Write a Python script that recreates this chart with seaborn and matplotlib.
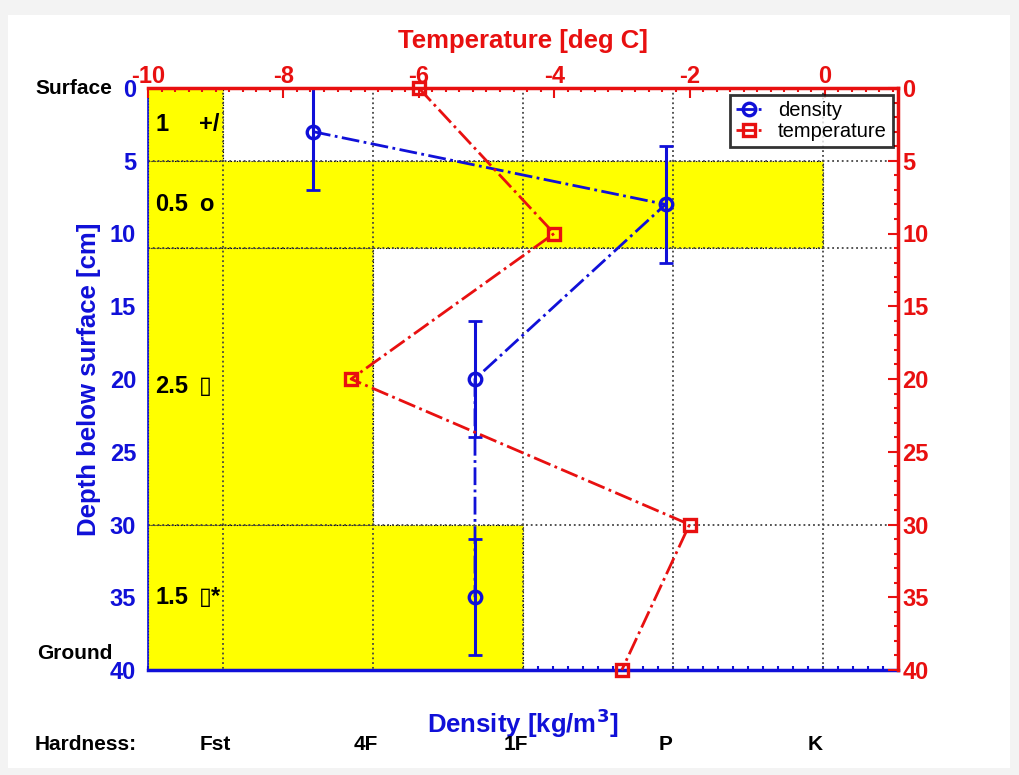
"""
Snow pit profile: hardness layers, density with error bars and temperature.
"""

import numpy as np
import matplotlib
matplotlib.use("Agg")
import matplotlib.pyplot as plt
import matplotlib.transforms as mtransforms
from matplotlib.patches import Rectangle
from matplotlib.ticker import MultipleLocator
import seaborn as sns

# -------------------------------
# DATA
# -------------------------------
layer_top = [0, 5, 11, 30]
layer_bottom = [5, 11, 30, 40]
layer_hardness = [50, 450, 150, 250]
grain_size = ["1", "0.5", "2.5", "1.5"]
grain_type = ["+/", "o", "\u25af", "\u25af*"]

hardness_pos = [50, 150, 250, 350, 450]
hardness_names = ["Fst", "4F", "1F", "P", "K"]

density_depth = [3, 8, 20, 35]
density_value = [110, 345, 218, 218]
density_err = [4, 4, 4, 4]

temp_depth = [0, 10, 20, 30, 40]
temp_value = [-6, -4, -7, -2, -3]

BLUE = "#1010d8"
RED = "#e81010"
YELLOW = "#ffff00"

# -------------------------------
# STYLE
# -------------------------------
sns.set_style("white")
plt.rcParams["font.family"] = ["Liberation Sans", "DejaVu Sans"]
plt.rcParams["font.weight"] = "bold"
plt.rcParams["text.color"] = "black"
plt.rcParams["axes.unicode_minus"] = False

fig = plt.figure(figsize=(10.19, 7.75), dpi=100)
fig.patch.set_facecolor("#f3f3f3")
fig.patches.append(Rectangle((8 / 1019, 7 / 775), 1002 / 1019, 753 / 775,
                             transform=fig.transFigure, facecolor="white",
                             edgecolor="none", zorder=-10))

ax = fig.add_axes([148 / 1019, 105 / 775, 750 / 1019, 582 / 775])
axT = ax.twiny()
axR = ax.twinx()

# -------------------------------
# HARDNESS LAYERS + GRID
# -------------------------------
thick = np.array(layer_bottom) - np.array(layer_top)
ax.barh(layer_top, layer_hardness, height=thick, left=0, align="edge",
        color=YELLOW, edgecolor="black", linewidth=0.8, linestyle=":", zorder=1)
ax.vlines(hardness_pos, 0, 40, colors="#444444", linestyles=":", linewidth=1.3, zorder=2)
ax.hlines(layer_bottom[:-1], 0, 500, colors="#444444", linestyles=":", linewidth=1.3, zorder=2)

for top, bot, gs, gt in zip(layer_top, layer_bottom, grain_size, grain_type):
    mid = (top + bot) / 2
    ax.text(5, mid, gs, fontsize=17, fontweight="bold", va="center", ha="left",
            color="black", zorder=3)
    ax.text(34, mid, gt, fontsize=17, fontweight="bold", va="center", ha="left",
            color="black", zorder=3, family=["Liberation Sans", "DejaVu Sans"])

# -------------------------------
# DENSITY
# -------------------------------
ax.errorbar(density_value, density_depth, yerr=density_err, fmt="none",
            ecolor=BLUE, elinewidth=2.2, capsize=5, capthick=2, zorder=4)
sns.lineplot(x=density_value, y=density_depth, ax=ax, orient="y", sort=False,
             color=BLUE, linestyle="-.", linewidth=2, marker="o", markersize=9,
             markerfacecolor="none", markeredgecolor=BLUE, markeredgewidth=2.4,
             label="density", zorder=5)

# -------------------------------
# TEMPERATURE
# -------------------------------
sns.lineplot(x=temp_value, y=temp_depth, ax=axT, orient="y", sort=False,
             color=RED, linestyle="-.", linewidth=2, marker="s", markersize=8,
             markerfacecolor="none", markeredgecolor=RED, markeredgewidth=2.4,
             label="temperature", zorder=5, clip_on=False)

for a in (ax, axT):
    if a.get_legend() is not None:
        a.get_legend().remove()

# -------------------------------
# AXES
# -------------------------------
ax.set_xlim(0, 500)
ax.set_ylim(40, 0)
axR.set_ylim(40, 0)
axT.set_xlim(-10, 1.08)

ax.set_xticks(np.arange(0, 501, 100))
ax.xaxis.set_minor_locator(MultipleLocator(10))
ax.set_yticks(np.arange(0, 41, 5))
ax.tick_params(axis="x", which="both", direction="in", colors=BLUE, labelsize=17,
               pad=6, top=False, bottom=True, width=1.5)
ax.tick_params(axis="x", which="major", length=7)
ax.tick_params(axis="x", which="minor", length=3)
ax.tick_params(axis="y", colors=BLUE, labelsize=17, left=False, pad=5)

axT.set_xticks(np.arange(-10, 1, 2))
axT.xaxis.set_minor_locator(MultipleLocator(0.2))
axT.tick_params(axis="x", which="both", direction="in", colors=RED, labelsize=17,
                pad=0, width=1.5)
axT.tick_params(axis="x", which="major", length=7)
axT.tick_params(axis="x", which="minor", length=3)

axR.set_yticks(np.arange(0, 41, 5))
axR.yaxis.set_minor_locator(MultipleLocator(1))
axR.tick_params(axis="y", which="both", direction="in", colors=RED, labelsize=17,
                pad=3, width=1.5)
axR.tick_params(axis="y", which="major", length=7)
axR.tick_params(axis="y", which="minor", length=3)

for s in ("top", "right"):
    ax.spines[s].set_visible(False)
ax.spines["left"].set_color(BLUE)
ax.spines["left"].set_linewidth(1.2)
ax.spines["bottom"].set_color(BLUE)
ax.spines["bottom"].set_linewidth(2.5)
ax.spines["bottom"].set_zorder(3)

for s in ("left", "right", "bottom"):
    axT.spines[s].set_visible(False)
axT.spines["top"].set_color(RED)
axT.spines["top"].set_linewidth(2.5)

for s in ("left", "top", "bottom"):
    axR.spines[s].set_visible(False)
axR.spines["right"].set_color(RED)
axR.spines["right"].set_linewidth(2.5)
axR.set_xticks([])

for a in (ax, axT, axR):
    a.patch.set_visible(False)
    for lab in a.get_xticklabels() + a.get_yticklabels():
        lab.set_fontweight("bold")

ax.set_xlabel("Density [kg/m$^\\mathbf{3}$]", color=BLUE, fontsize=18.5,
              fontweight="bold", labelpad=20)
ax.set_ylabel("Depth below surface [cm]", color=BLUE, fontsize=18.5,
              fontweight="bold", labelpad=6)
axT.set_xlabel("Temperature [deg C]", color=RED, fontsize=18.5,
               fontweight="bold", labelpad=12)

# side labels
trans = mtransforms.blended_transform_factory(ax.transAxes, ax.transData)
ax.text(-0.047, 0, "Surface", transform=trans, ha="right", va="center",
        fontsize=15, fontweight="bold", color="black")
ax.text(-0.047, 38.9, "Ground", transform=trans, ha="right", va="center",
        fontsize=15, fontweight="bold", color="black")

# hardness scale under the axis
fig.text(35 / 1019, 30 / 775, "Hardness:", ha="left", va="center",
         fontsize=15, fontweight="bold", color="black")
transH = mtransforms.blended_transform_factory(ax.transData, fig.transFigure)
for hp, hn in zip(hardness_pos, hardness_names):
    ax.text(hp - 5, 30 / 775, hn, transform=transH, ha="center", va="center",
            fontsize=15, fontweight="bold", color="black")

# legend
handles = ax.get_lines()[-1:] + axT.get_lines()[-1:]
leg = axR.legend(handles, ["density", "temperature"], loc="upper right",
                 bbox_to_anchor=(0.9933, 0.988), borderaxespad=0, fontsize=14.5,
                 frameon=True, fancybox=False, edgecolor="black", handlelength=1.3,
                 borderpad=0.3, labelspacing=0.1, handletextpad=0.8)
leg.get_frame().set_linewidth(2)
for t in leg.get_texts():
    t.set_fontweight("normal")

fig.savefig("out.png", dpi=100)
